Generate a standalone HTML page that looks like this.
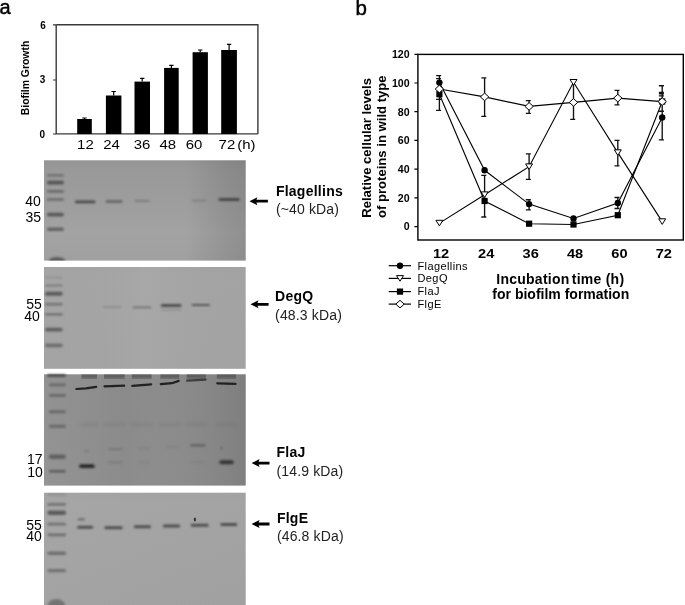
<!DOCTYPE html>
<html><head><meta charset="utf-8"><title>Figure</title>
<style>html,body{margin:0;padding:0;background:#fff;}svg{display:block;}</style></head>
<body><svg width="685" height="605" viewBox="0 0 685 605" font-family="'Liberation Sans', Arial, sans-serif">
<defs><filter id="b5" x="-20%" y="-200%" width="140%" height="500%"><feGaussianBlur stdDeviation="0.5"/></filter><filter id="b6" x="-20%" y="-200%" width="140%" height="500%"><feGaussianBlur stdDeviation="0.6"/></filter><filter id="b7" x="-20%" y="-200%" width="140%" height="500%"><feGaussianBlur stdDeviation="0.7"/></filter><filter id="b8" x="-20%" y="-200%" width="140%" height="500%"><feGaussianBlur stdDeviation="0.8"/></filter><filter id="b10" x="-20%" y="-200%" width="140%" height="500%"><feGaussianBlur stdDeviation="1.0"/></filter><filter id="b12" x="-20%" y="-200%" width="140%" height="500%"><feGaussianBlur stdDeviation="1.2"/></filter><filter id="b14" x="-20%" y="-200%" width="140%" height="500%"><feGaussianBlur stdDeviation="1.4"/></filter>
<linearGradient id="g1v" x1="0" y1="0" x2="0" y2="1"><stop offset="0" stop-color="#949494"/><stop offset="0.1" stop-color="#999999"/><stop offset="0.4" stop-color="#9d9d9d"/><stop offset="0.72" stop-color="#a3a3a3"/><stop offset="1" stop-color="#a0a0a0"/></linearGradient>
<linearGradient id="g1h" x1="0" y1="0" x2="1" y2="0"><stop offset="0" stop-color="#000" stop-opacity="0.0"/><stop offset="0.7" stop-color="#000" stop-opacity="0"/><stop offset="0.88" stop-color="#000" stop-opacity="0.08"/><stop offset="1" stop-color="#000" stop-opacity="0.12"/></linearGradient>
<linearGradient id="g2v" x1="0" y1="0" x2="0" y2="1"><stop offset="0" stop-color="#a4a4a4"/><stop offset="0.1" stop-color="#a5a5a5"/><stop offset="1" stop-color="#a4a4a4"/></linearGradient>
<linearGradient id="g2h" x1="0" y1="0" x2="1" y2="0"><stop offset="0" stop-color="#000" stop-opacity="0.0"/><stop offset="0.5" stop-color="#fff" stop-opacity="0.03"/><stop offset="1" stop-color="#000" stop-opacity="0.01"/></linearGradient>
<linearGradient id="g3v" x1="0" y1="0" x2="0" y2="1"><stop offset="0" stop-color="#8a8a8a"/><stop offset="1" stop-color="#8c8c8c"/></linearGradient>
<linearGradient id="g3h" x1="0" y1="0" x2="1" y2="0"><stop offset="0" stop-color="#fff" stop-opacity="0.07"/><stop offset="0.4" stop-color="#fff" stop-opacity="0.0"/><stop offset="1" stop-color="#000" stop-opacity="0.09"/></linearGradient>
<linearGradient id="g4v" x1="0" y1="0" x2="0" y2="1"><stop offset="0" stop-color="#a3a3a3"/><stop offset="0.1" stop-color="#a5a5a5"/><stop offset="1" stop-color="#a2a2a2"/></linearGradient>
<linearGradient id="g4h" x1="0" y1="0" x2="1" y2="0"><stop offset="0" stop-color="#fff" stop-opacity="0.01"/><stop offset="1" stop-color="#000" stop-opacity="0.01"/></linearGradient>
<clipPath id="cg1"><rect x="44" y="160.3" width="201.7" height="100.3"/></clipPath></defs>
<text x="-0.6" y="14.3" font-size="20" stroke="#000" stroke-width="0.45">a</text>
<path d="M56.2 24.8 H257.9 V133.9 M56.2 24.8 V133.9 H257.9" fill="none" stroke="#3a3a3a" stroke-width="1.4"/>
<path d="M53 24.9 H56 M53 80 H56 M53 134 H56" stroke="#3a3a3a" stroke-width="1.2"/>
<rect x="77.2" y="119" width="14.6" height="15.0" fill="#000"/>
<path d="M84.5 119 V118 M82.3 118 H86.7" stroke="#000" stroke-width="1.2"/>
<rect x="105.9" y="95.5" width="15.5" height="38.5" fill="#000"/>
<path d="M113.7 95.5 V91.5 M111.5 91.5 H115.9" stroke="#000" stroke-width="1.2"/>
<rect x="134.5" y="81.6" width="15.5" height="52.4" fill="#000"/>
<path d="M142.2 81.6 V78.3 M140.1 78.3 H144.4" stroke="#000" stroke-width="1.2"/>
<rect x="164.1" y="67.9" width="14.6" height="66.1" fill="#000"/>
<path d="M171.4 67.9 V65.4 M169.2 65.4 H173.6" stroke="#000" stroke-width="1.2"/>
<rect x="192.6" y="52.2" width="15.3" height="81.8" fill="#000"/>
<path d="M200.2 52.2 V50 M198.1 50 H202.4" stroke="#000" stroke-width="1.2"/>
<rect x="221.2" y="50" width="15.7" height="84.0" fill="#000"/>
<path d="M229.1 50 V44.3 M226.9 44.3 H231.2" stroke="#000" stroke-width="1.2"/>
<g font-weight="bold" font-size="10" text-anchor="end"><text x="45.8" y="28.6">6</text><text x="45.4" y="82.6">3</text><text x="45" y="137.9">0</text></g>
<g font-size="13.6"><text transform="translate(77.1,148.7) scale(1.1,1)">12</text><text transform="translate(103.2,148.7) scale(1.1,1)">24</text><text transform="translate(133.7,148.7) scale(1.1,1)">36</text><text transform="translate(159.5,148.7) scale(1.1,1)">48</text><text transform="translate(185.8,148.7) scale(1.1,1)">60</text><text transform="translate(218.6,148.7) scale(1.1,1)">72</text><text transform="translate(237.2,148.7) scale(1.1,1)">(h)</text></g>
<text transform="translate(29,78) rotate(-90)" text-anchor="middle" font-weight="bold" font-size="10.4">Biofilm Growth</text>
<rect x="44.0" y="160.3" width="201.7" height="100.3" fill="url(#g1v)"/>
<rect x="44.0" y="160.3" width="201.7" height="100.3" fill="url(#g1h)"/>
<rect x="44.0" y="267.0" width="201.7" height="101.8" fill="url(#g2v)"/>
<rect x="44.0" y="267.0" width="201.7" height="101.8" fill="url(#g2h)"/>
<rect x="44.0" y="374.3" width="201.7" height="111.3" fill="url(#g3v)"/>
<rect x="44.0" y="374.3" width="201.7" height="111.3" fill="url(#g3h)"/>
<rect x="44.0" y="492.7" width="201.7" height="113.3" fill="url(#g4v)"/>
<rect x="44.0" y="492.7" width="201.7" height="113.3" fill="url(#g4h)"/>
<rect x="46.9" y="174.2" width="17.1" height="2.4" rx="1.2" fill="#4a4a4a" opacity="0.55" filter="url(#b8)"/>
<rect x="46.9" y="180.7" width="17.1" height="3.8" rx="1.9" fill="#4a4a4a" opacity="0.85" filter="url(#b8)"/>
<rect x="46.9" y="190.0" width="17.1" height="2.8" rx="1.4" fill="#4a4a4a" opacity="0.6" filter="url(#b8)"/>
<rect x="46.9" y="198.2" width="17.1" height="2.6" rx="1.3" fill="#4a4a4a" opacity="0.6" filter="url(#b8)"/>
<rect x="46.9" y="212.7" width="17.1" height="3.8" rx="1.9" fill="#4a4a4a" opacity="0.8" filter="url(#b8)"/>
<rect x="46.9" y="227.5" width="17.1" height="3.4" rx="1.7" fill="#4a4a4a" opacity="0.7" filter="url(#b8)"/>
<ellipse cx="57" cy="261.5" rx="8.6" ry="4.6" fill="#4a4a4a" opacity="0.75" filter="url(#b10)" clip-path="url(#cg1)"/>
<rect x="74.9" y="200.6" width="20.6" height="2.7" rx="1.4" fill="#3c3c3c" opacity="0.85" filter="url(#b8)"/>
<rect x="105.5" y="200.3" width="17.2" height="2.4" rx="1.2" fill="#484848" opacity="0.7" filter="url(#b8)"/>
<rect x="134.5" y="199.9" width="15.5" height="1.8" rx="0.9" fill="#555" opacity="0.5" filter="url(#b8)"/>
<rect x="191.8" y="199.7" width="14.6" height="1.7" rx="0.8" fill="#606060" opacity="0.45" filter="url(#b8)"/>
<rect x="218.5" y="198.2" width="21.1" height="2.5" rx="1.2" fill="#2e2e2e" opacity="0.88" filter="url(#b8)"/>
<rect x="45.0" y="276.3" width="17.7" height="2.4" rx="1.2" fill="#4a4a4a" opacity="0.15" filter="url(#b8)"/>
<rect x="45.0" y="284.6" width="17.7" height="2.0" rx="1.0" fill="#4a4a4a" opacity="0.45" filter="url(#b8)"/>
<rect x="45.0" y="291.8" width="17.7" height="4.0" rx="2.0" fill="#4a4a4a" opacity="0.8" filter="url(#b8)"/>
<rect x="45.0" y="303.0" width="17.7" height="2.4" rx="1.2" fill="#4a4a4a" opacity="0.55" filter="url(#b8)"/>
<rect x="45.0" y="313.2" width="17.7" height="2.4" rx="1.2" fill="#4a4a4a" opacity="0.6" filter="url(#b8)"/>
<rect x="45.0" y="327.7" width="17.7" height="3.8" rx="1.9" fill="#4a4a4a" opacity="0.75" filter="url(#b8)"/>
<rect x="45.0" y="343.4" width="17.7" height="3.8" rx="1.9" fill="#4a4a4a" opacity="0.6" filter="url(#b8)"/>
<rect x="102.7" y="305.9" width="19.1" height="2.0" rx="1.0" fill="#606060" opacity="0.3" filter="url(#b8)"/>
<rect x="132.7" y="306.5" width="18.6" height="1.8" rx="0.9" fill="#444" opacity="0.55" filter="url(#b8)"/>
<rect x="160.9" y="304.2" width="20.6" height="2.5" rx="1.2" fill="#2e2e2e" opacity="0.85" filter="url(#b8)"/>
<rect x="161.0" y="309.0" width="20.5" height="1.6" rx="0.8" fill="#606060" opacity="0.35" filter="url(#b8)"/>
<rect x="191.5" y="303.9" width="18.5" height="2.1" rx="1.1" fill="#3a3a3a" opacity="0.72" filter="url(#b8)"/>
<rect x="47.0" y="374.1" width="19.0" height="3.0" rx="1.5" fill="#3a3a3a" opacity="0.75" filter="url(#b8)"/>
<rect x="48.9" y="383.6" width="16.9" height="2.6" rx="1.3" fill="#474747" opacity="0.55" filter="url(#b8)"/>
<rect x="48.9" y="394.1" width="16.9" height="2.6" rx="1.3" fill="#474747" opacity="0.55" filter="url(#b8)"/>
<rect x="48.9" y="410.2" width="16.9" height="3.0" rx="1.5" fill="#474747" opacity="0.55" filter="url(#b8)"/>
<rect x="48.9" y="424.7" width="16.9" height="3.0" rx="1.5" fill="#474747" opacity="0.55" filter="url(#b8)"/>
<rect x="48.9" y="454.5" width="16.9" height="4.4" rx="2.2" fill="#474747" opacity="0.65" filter="url(#b8)"/>
<rect x="48.9" y="469.9" width="16.9" height="2.6" rx="1.3" fill="#474747" opacity="0.7" filter="url(#b8)"/>
<rect x="81.4" y="374.3" width="15.6" height="4.6" fill="#505050" opacity="0.55" filter="url(#b6)"/>
<rect x="81.9" y="375.6" width="14.6" height="1.0" fill="#3a3a3a" opacity="0.35" filter="url(#b5)"/>
<rect x="104.0" y="374.3" width="20.7" height="4.6" fill="#505050" opacity="0.55" filter="url(#b6)"/>
<rect x="104.5" y="375.6" width="19.7" height="1.0" fill="#3a3a3a" opacity="0.35" filter="url(#b5)"/>
<rect x="131.8" y="374.3" width="19.9" height="4.6" fill="#505050" opacity="0.55" filter="url(#b6)"/>
<rect x="132.3" y="375.6" width="18.9" height="1.0" fill="#3a3a3a" opacity="0.35" filter="url(#b5)"/>
<rect x="160.3" y="374.3" width="18.9" height="4.6" fill="#505050" opacity="0.55" filter="url(#b6)"/>
<rect x="160.8" y="375.6" width="17.9" height="1.0" fill="#3a3a3a" opacity="0.35" filter="url(#b5)"/>
<rect x="186.7" y="374.3" width="19.2" height="4.6" fill="#505050" opacity="0.55" filter="url(#b6)"/>
<rect x="187.2" y="375.6" width="18.2" height="1.0" fill="#3a3a3a" opacity="0.35" filter="url(#b5)"/>
<rect x="216.8" y="374.3" width="19.2" height="4.6" fill="#505050" opacity="0.55" filter="url(#b6)"/>
<rect x="217.3" y="375.6" width="18.2" height="1.0" fill="#3a3a3a" opacity="0.35" filter="url(#b5)"/>
<path d="M76.4 389.0 L86.0 388.4 L96.2 386.8" stroke="#1c1c1c" stroke-width="2.2" stroke-linecap="round" fill="none" opacity="0.95" filter="url(#b5)"/>
<path d="M104.5 386.3 L124.2 385.7" stroke="#1c1c1c" stroke-width="2.2" stroke-linecap="round" fill="none" opacity="0.95" filter="url(#b5)"/>
<path d="M132.3 385.8 L151.2 384.4" stroke="#1c1c1c" stroke-width="2.2" stroke-linecap="round" fill="none" opacity="0.95" filter="url(#b5)"/>
<path d="M160.8 384.2 L172.0 383.2 L178.7 380.9" stroke="#1c1c1c" stroke-width="2.2" stroke-linecap="round" fill="none" opacity="0.95" filter="url(#b5)"/>
<path d="M187.2 380.6 L205.4 379.6" stroke="#333" stroke-width="2.4" stroke-linecap="round" fill="none" opacity="0.85" filter="url(#b6)"/>
<path d="M217.3 383.3 L235.5 383.9" stroke="#1c1c1c" stroke-width="2.2" stroke-linecap="round" fill="none" opacity="0.95" filter="url(#b5)"/>
<rect x="79.9" y="422.0" width="18.6" height="5.0" rx="2.5" fill="#6a6a6a" opacity="0.18" filter="url(#b14)"/>
<rect x="102.5" y="422.0" width="23.7" height="5.0" rx="2.5" fill="#6a6a6a" opacity="0.18" filter="url(#b14)"/>
<rect x="130.3" y="422.0" width="22.9" height="5.0" rx="2.5" fill="#6a6a6a" opacity="0.18" filter="url(#b14)"/>
<rect x="158.8" y="422.0" width="21.9" height="5.0" rx="2.5" fill="#6a6a6a" opacity="0.18" filter="url(#b14)"/>
<rect x="185.2" y="422.0" width="22.2" height="5.0" rx="2.5" fill="#6a6a6a" opacity="0.18" filter="url(#b14)"/>
<rect x="215.3" y="422.0" width="22.2" height="5.0" rx="2.5" fill="#6a6a6a" opacity="0.18" filter="url(#b14)"/>
<rect x="79.2" y="464.3" width="15.4" height="3.8" rx="1.9" fill="#1e1e1e" opacity="0.9" filter="url(#b8)"/>
<rect x="84.0" y="450.4" width="5.0" height="1.6" rx="0.8" fill="#505050" opacity="0.4" filter="url(#b8)"/>
<rect x="108.0" y="448.3" width="14.8" height="1.8" rx="0.9" fill="#555" opacity="0.4" filter="url(#b8)"/>
<rect x="108.0" y="461.2" width="14.8" height="2.2" rx="1.1" fill="#606060" opacity="0.35" filter="url(#b8)"/>
<rect x="137.5" y="447.6" width="12.5" height="1.6" rx="0.8" fill="#606060" opacity="0.25" filter="url(#b8)"/>
<rect x="137.5" y="461.4" width="12.5" height="1.8" rx="0.9" fill="#6a6a6a" opacity="0.2" filter="url(#b8)"/>
<rect x="165.7" y="446.0" width="13.8" height="1.6" rx="0.8" fill="#606060" opacity="0.25" filter="url(#b8)"/>
<rect x="190.2" y="444.2" width="15.3" height="2.2" rx="1.1" fill="#404040" opacity="0.55" filter="url(#b8)"/>
<rect x="191.0" y="461.2" width="14.0" height="2.2" rx="1.1" fill="#707070" opacity="0.25" filter="url(#b8)"/>
<rect x="219.3" y="460.2" width="14.4" height="4.0" rx="2.0" fill="#2a2a2a" opacity="0.85" filter="url(#b8)"/>
<rect x="220.0" y="447.6" width="3.0" height="1.6" rx="0.8" fill="#404040" opacity="0.5" filter="url(#b8)"/>
<rect x="47.4" y="493.9" width="18.7" height="1.8" rx="0.9" fill="#4a4a4a" opacity="0.25" filter="url(#b8)"/>
<rect x="47.4" y="503.1" width="18.7" height="2.6" rx="1.3" fill="#4a4a4a" opacity="0.55" filter="url(#b8)"/>
<rect x="47.4" y="510.6" width="18.7" height="4.4" rx="2.2" fill="#4a4a4a" opacity="0.8" filter="url(#b8)"/>
<rect x="47.4" y="522.8" width="18.7" height="2.8" rx="1.4" fill="#4a4a4a" opacity="0.55" filter="url(#b8)"/>
<rect x="47.4" y="533.4" width="18.7" height="2.8" rx="1.4" fill="#4a4a4a" opacity="0.6" filter="url(#b8)"/>
<rect x="47.4" y="551.5" width="18.7" height="3.4" rx="1.7" fill="#4a4a4a" opacity="0.6" filter="url(#b8)"/>
<rect x="47.4" y="568.9" width="18.7" height="3.4" rx="1.7" fill="#4a4a4a" opacity="0.55" filter="url(#b8)"/>
<ellipse cx="56.4" cy="605.5" rx="8.8" ry="6.5" fill="#606060" opacity="0.7" filter="url(#b12)"/>
<rect x="77.1" y="525.8" width="16.1" height="3.0" rx="1.5" fill="#3a3a3a" opacity="0.8" filter="url(#b8)"/>
<rect x="104.4" y="526.2" width="18.4" height="3.0" rx="1.5" fill="#3a3a3a" opacity="0.8" filter="url(#b8)"/>
<rect x="133.8" y="525.2" width="17.2" height="3.0" rx="1.5" fill="#3a3a3a" opacity="0.8" filter="url(#b8)"/>
<rect x="162.8" y="524.6" width="17.4" height="3.0" rx="1.5" fill="#3a3a3a" opacity="0.8" filter="url(#b8)"/>
<rect x="190.7" y="523.8" width="18.0" height="3.0" rx="1.5" fill="#3a3a3a" opacity="0.8" filter="url(#b8)"/>
<rect x="220.3" y="522.9" width="17.0" height="3.0" rx="1.5" fill="#3a3a3a" opacity="0.8" filter="url(#b8)"/>
<rect x="77.5" y="518.4" width="7.5" height="1.8" rx="0.9" fill="#303030" opacity="0.6" filter="url(#b8)"/>
<rect x="193.8" y="517.5" width="2.2" height="4.0" rx="2.0" fill="#1a1a1a" opacity="0.8" filter="url(#b5)"/>
<g font-size="14"><text x="25.2" y="205.7">40</text><text x="25.5" y="221.5">35</text><text x="26.3" y="309">55</text><text x="24.3" y="320.7">40</text><text x="26.9" y="463.6">17</text><text x="27.2" y="476.5">10</text><text x="26.3" y="529.5">55</text><text x="26.3" y="540.7">40</text></g>
<path d="M249.4 201.2 L257.4 197.2 L256.4 199.79999999999998 L267.9 199.79999999999998 L267.9 202.6 L256.4 202.6 L257.4 205.2 Z" fill="#000"/>
<path d="M250.5 304.3 L258.5 300.3 L257.5 302.90000000000003 L268.6 302.90000000000003 L268.6 305.7 L257.5 305.7 L258.5 308.3 Z" fill="#000"/>
<path d="M251.6 463.1 L259.6 459.1 L258.6 461.70000000000005 L269.5 461.70000000000005 L269.5 464.5 L258.6 464.5 L259.6 467.1 Z" fill="#000"/>
<path d="M251.6 524 L259.6 520 L258.6 522.6 L269.5 522.6 L269.5 525.4 L258.6 525.4 L259.6 528 Z" fill="#000"/>
<text x="275.9" y="196" font-size="14" font-weight="bold" letter-spacing="0.25">Flagellins</text>
<text x="275.9" y="214.3" font-size="14" fill="#222" letter-spacing="0.15">(~40 kDa)</text>
<text x="275.1" y="301.4" font-size="14" font-weight="bold" letter-spacing="0.25">DegQ</text>
<text x="275.1" y="319.7" font-size="14" fill="#222" letter-spacing="0.15">(48.3 kDa)</text>
<text x="276.5" y="457.2" font-size="14" font-weight="bold" letter-spacing="0.25">FlaJ</text>
<text x="276.5" y="475.8" font-size="14" fill="#222" letter-spacing="0.15">(14.9 kDa)</text>
<text x="276.9" y="522.5" font-size="14" font-weight="bold" letter-spacing="0.25">FlgE</text>
<text x="276.9" y="540.5" font-size="14" fill="#222" letter-spacing="0.15">(46.8 kDa)</text>
<text x="355.6" y="15.3" font-size="20.5" stroke="#000" stroke-width="0.45">b</text>
<rect x="417.9" y="54.4" width="265.4" height="185.6" fill="none" stroke="#000" stroke-width="1.4"/>
<path d="M414.4 226.6 H418 M414.4 197.9 H418 M414.4 169.2 H418 M414.4 140.4 H418 M414.4 111.7 H418 M414.4 83.0 H418 M414.4 54.3 H418 " stroke="#000" stroke-width="1.2"/>
<g font-weight="bold" font-size="10.6" text-anchor="end"><text x="409.6" y="230.4">0</text><text x="409.6" y="201.7">20</text><text x="409.6" y="173.0">40</text><text x="409.6" y="144.2">60</text><text x="409.6" y="115.5">80</text><text x="409.6" y="86.8">100</text><text x="409.6" y="58.1">120</text></g>
<g font-weight="bold" font-size="12.6" text-anchor="middle"><text transform="translate(441.0,257.9) scale(1.16,1)">12</text><text transform="translate(486.2,257.9) scale(1.16,1)">24</text><text transform="translate(530.7,257.9) scale(1.16,1)">36</text><text transform="translate(575.1,257.9) scale(1.16,1)">48</text><text transform="translate(619.4,257.9) scale(1.16,1)">60</text><text transform="translate(663.8,257.9) scale(1.16,1)">72</text></g>
<g font-weight="bold" font-size="13.1"><text transform="translate(371.2,217.8) rotate(-90)">Relative cellular levels</text><text transform="translate(385.6,218) rotate(-90)">of proteins in wild type</text></g>
<g font-weight="bold" font-size="14" text-anchor="middle"><text x="560.3" y="283.6" letter-spacing="0.25">Incubation<tspan dx="2.2">time (h)</tspan></text><text x="560.8" y="299.2">for biofilm formation</text></g>
<path d="M439.4 75.6 V110.3 M436.1 75.6 H441.1 M436.1 78.6 H441.1 M436.1 99.4 H441.1 M436.1 110.3 H441.1 " stroke="#111" stroke-width="1.35" fill="none"/>
<path d="M484.6 77.9 V116.3 M481.3 77.9 H486.3 M481.3 116.3 H486.3 " stroke="#111" stroke-width="1.35" fill="none"/>
<path d="M484.6 175.3 V217 M481.3 175.3 H486.3 M481.3 217 H486.3 " stroke="#111" stroke-width="1.35" fill="none"/>
<path d="M529.1 100.6 V113.4 M525.8 100.6 H530.8 M525.8 113.4 H530.8 " stroke="#111" stroke-width="1.35" fill="none"/>
<path d="M529.1 153.8 V179.3 M525.8 153.8 H530.8 M525.8 179.3 H530.8 " stroke="#111" stroke-width="1.35" fill="none"/>
<path d="M529.1 199.7 V209.9 M525.8 199.7 H530.8 M525.8 209.9 H530.8 " stroke="#111" stroke-width="1.35" fill="none"/>
<path d="M573.5 85 V119.3 M570.2 119.3 H575.2 " stroke="#111" stroke-width="1.35" fill="none"/>
<path d="M617.8 90.4 V104.9 M614.5 90.4 H619.5 M614.5 104.9 H619.5 " stroke="#111" stroke-width="1.35" fill="none"/>
<path d="M617.8 140.3 V165.9 M614.5 140.3 H619.5 M614.5 165.9 H619.5 " stroke="#111" stroke-width="1.35" fill="none"/>
<path d="M617.8 197.5 V208.5 M614.5 197.5 H619.5 M614.5 208.5 H619.5 " stroke="#111" stroke-width="1.35" fill="none"/>
<path d="M662.2 85.6 V139.8 M658.9 85.7 H663.9 M658.9 92.5 H663.9 M658.9 93.9 H663.9 M658.9 95.8 H663.9 M658.9 111.2 H663.9 M658.9 139.8 H663.9 " stroke="#111" stroke-width="1.35" fill="none"/>
<polyline points="439.4,89 484.6,96.9 529.1,106.4 573.5,102.4 617.8,98.1 662.2,101.6" fill="none" stroke="#000" stroke-width="1.1"/>
<polyline points="439.4,223.1 484.6,194.7 529.1,166.7 573.5,82.3 617.8,152.6 662.2,221.6" fill="none" stroke="#000" stroke-width="1.1"/>
<polyline points="439.4,94.2 484.6,201 529.1,223.7 573.5,224.5 617.8,215.2 662.2,101.5" fill="none" stroke="#000" stroke-width="1.1"/>
<polyline points="439.4,82.6 484.6,170.3 529.1,204.1 573.5,218.5 617.8,203 662.2,117.4" fill="none" stroke="#000" stroke-width="1.1"/>
<rect x="436.3" y="91.1" width="6.2" height="6.2" fill="#000"/>
<rect x="481.5" y="197.9" width="6.2" height="6.2" fill="#000"/>
<rect x="526.0" y="220.6" width="6.2" height="6.2" fill="#000"/>
<rect x="570.4" y="221.4" width="6.2" height="6.2" fill="#000"/>
<rect x="614.7" y="212.1" width="6.2" height="6.2" fill="#000"/>
<rect x="659.1" y="98.4" width="6.2" height="6.2" fill="#000"/>
<circle cx="439.4" cy="82.6" r="3.2" fill="#000"/>
<circle cx="484.6" cy="170.3" r="3.2" fill="#000"/>
<circle cx="529.1" cy="204.1" r="3.2" fill="#000"/>
<circle cx="573.5" cy="218.5" r="3.2" fill="#000"/>
<circle cx="617.8" cy="203" r="3.2" fill="#000"/>
<circle cx="662.2" cy="117.4" r="3.2" fill="#000"/>
<path d="M435.9 220.3 H442.9 L439.4 225.9 Z" fill="#fff" stroke="#000" stroke-width="1"/>
<path d="M481.1 191.9 H488.1 L484.6 197.5 Z" fill="#fff" stroke="#000" stroke-width="1"/>
<path d="M525.6 163.9 H532.6 L529.1 169.5 Z" fill="#fff" stroke="#000" stroke-width="1"/>
<path d="M570.0 79.5 H577.0 L573.5 85.1 Z" fill="#fff" stroke="#000" stroke-width="1"/>
<path d="M614.3 149.8 H621.3 L617.8 155.4 Z" fill="#fff" stroke="#000" stroke-width="1"/>
<path d="M658.7 218.8 H665.7 L662.2 224.4 Z" fill="#fff" stroke="#000" stroke-width="1"/>
<path d="M435.2 89.0 L439.4 85.2 L443.6 89.0 L439.4 92.8 Z" fill="#fff" stroke="#000" stroke-width="1"/>
<path d="M480.4 96.9 L484.6 93.1 L488.8 96.9 L484.6 100.7 Z" fill="#fff" stroke="#000" stroke-width="1"/>
<path d="M524.9 106.4 L529.1 102.6 L533.3 106.4 L529.1 110.2 Z" fill="#fff" stroke="#000" stroke-width="1"/>
<path d="M569.3 102.4 L573.5 98.6 L577.7 102.4 L573.5 106.2 Z" fill="#fff" stroke="#000" stroke-width="1"/>
<path d="M613.6 98.1 L617.8 94.3 L622.0 98.1 L617.8 101.9 Z" fill="#fff" stroke="#000" stroke-width="1"/>
<path d="M658.0 101.6 L662.2 97.8 L666.4 101.6 L662.2 105.4 Z" fill="#fff" stroke="#000" stroke-width="1"/>
<path d="M388.7 265.7 H411" stroke="#000" stroke-width="1.2"/>
<circle cx="400" cy="265.7" r="3.2" fill="#000"/>
<text x="417.5" y="269.6" font-size="11" letter-spacing="0.4">Flagellins</text>
<path d="M388.7 278.4 H411" stroke="#000" stroke-width="1.2"/>
<path d="M396.5 275.6 H403.5 L400.0 281.2 Z" fill="#fff" stroke="#000" stroke-width="1"/>
<text x="417.5" y="282.3" font-size="11" letter-spacing="0.4">DegQ</text>
<path d="M388.7 291.6 H411" stroke="#000" stroke-width="1.2"/>
<rect x="396.9" y="288.5" width="6.2" height="6.2" fill="#000"/>
<text x="417.5" y="295.2" font-size="11" letter-spacing="0.4">FlaJ</text>
<path d="M388.7 304.1 H411" stroke="#000" stroke-width="1.2"/>
<path d="M395.8 304.1 L400.0 300.3 L404.2 304.1 L400.0 307.9 Z" fill="#fff" stroke="#000" stroke-width="1"/>
<text x="417.5" y="307.8" font-size="11" letter-spacing="0.4">FlgE</text>
</svg></body></html>
